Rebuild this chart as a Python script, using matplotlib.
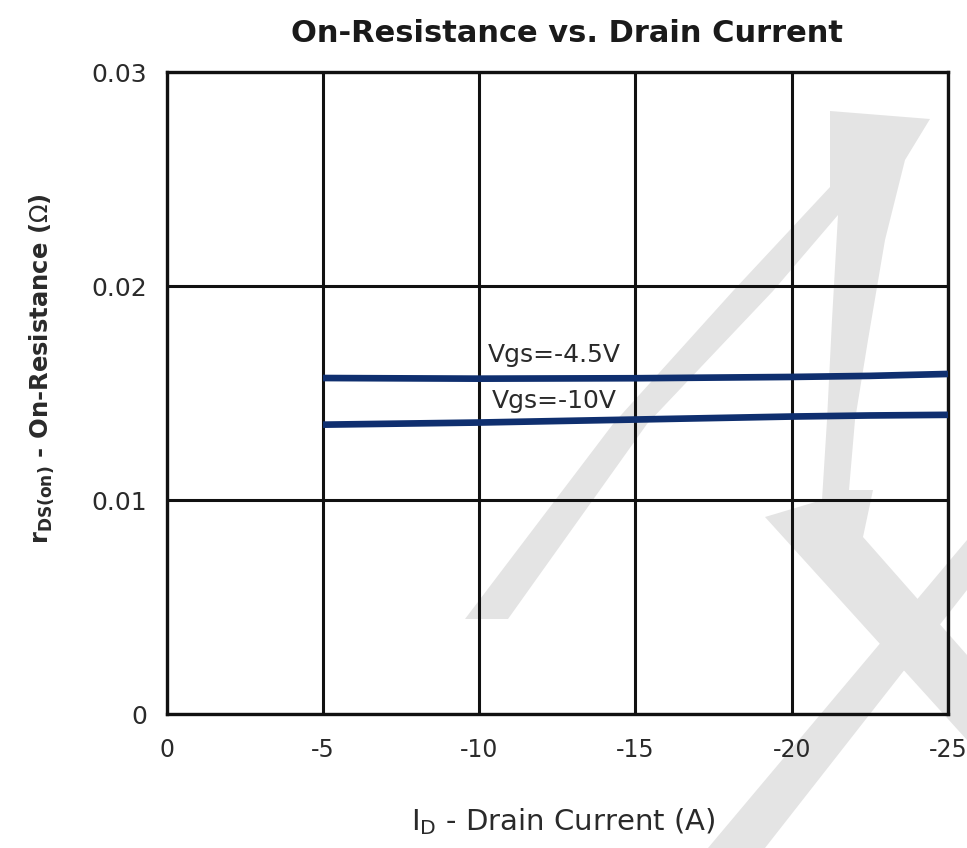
import numpy as np
import matplotlib
matplotlib.use("Agg")
import matplotlib.pyplot as plt
from matplotlib.patches import Polygon

# data (drain current in A, rDS(on) in ohm)
i_d = [-5, -10, -15, -20, -22.5, -25]
r_vgs45 = [0.01570, 0.01567, 0.01569, 0.01575, 0.01580, 0.01589]
r_vgs10 = [0.01352, 0.01362, 0.01376, 0.01390, 0.01395, 0.01398]

x_ticks = [0, -5, -10, -15, -20, -25]
x_tick_labels = ['0', '-5', '-10', '-15', '-20', '-25']
y_ticks = [0, 0.01, 0.02, 0.03]
y_tick_labels = ['0', '0.01', '0.02', '0.03']

W, H = 967, 848
fig = plt.figure(figsize=(W/100, H/100), dpi=100)
fig.patch.set_facecolor('white')

# faint grey watermark behind the plot (pixel coords of the picture)
def px(pts):
    return [(x/W, 1 - y/H) for x, y in pts]

wm = '#e4e4e4'
shapes = [
    [(465, 619), (613, 424), (733, 291), (830, 187), (830, 111), (930, 119),
     (905, 160), (885, 240), (868, 340), (855, 420), (849, 490), (873, 490),
     (863, 537), (967, 655), (967, 740), (765, 517), (822, 500), (827, 420),
     (832, 320), (838, 215), (773, 291), (647, 424), (508, 619)],
    [(708, 848), (967, 540), (967, 590), (765, 848)],
]
for s in shapes:
    fig.patches.append(Polygon(px(s), closed=True, transform=fig.transFigure,
                               fc=wm, ec='none', zorder=-1))

ax = fig.add_axes([166.7/W, 1 - 714/H, (948 - 166.7)/W, (714 - 72)/H])
ax.set_facecolor('none')

line_col = '#0f2f6f'
ax.plot(i_d, r_vgs45, color=line_col, lw=4.8, solid_capstyle='butt', zorder=3)
ax.plot(i_d, r_vgs10, color=line_col, lw=4.8, solid_capstyle='butt', zorder=3)

ax.text(-12.4, 0.01645, 'Vgs=-4.5V', ha='center', va='baseline', fontsize=18, color='#2a2a2a', zorder=4)
ax.text(-12.4, 0.01432, 'Vgs=-10V', ha='center', va='baseline', fontsize=18, color='#2a2a2a', zorder=4)

ax.set_xlim(0, -25)
ax.set_ylim(0, 0.03)
ax.set_xticks(x_ticks)
ax.set_xticklabels(x_tick_labels)
ax.set_yticks(y_ticks)
ax.set_yticklabels(y_tick_labels)
ax.tick_params(axis='x', length=0, pad=17, labelsize=17, labelcolor='#2a2a2a')
ax.tick_params(axis='y', length=0, pad=14, labelsize=18, labelcolor='#2a2a2a')

ax.grid(True, color='#111111', lw=2.2, zorder=2)
ax.set_axisbelow(True)
for sp in ax.spines.values():
    sp.set_color('#111111')
    sp.set_linewidth(2.4)

fig.text(567/W, 1 - 42/H, 'On-Resistance vs. Drain Current', ha='center', va='baseline',
         fontsize=22, fontweight='bold', color='#1a1a1a')
fig.text(563/W, 1 - 830/H, r'$\mathregular{I_D}$ - Drain Current (A)', ha='center', va='baseline',
         fontsize=21, color='#2a2a2a')
fig.text(42/W, 1 - 369/H, r'$\mathbf{r_{DS(on)}}$ - On-Resistance ($\Omega$)', ha='center', va='center',
         rotation=90, fontsize=17.5, fontweight='bold', color='#2a2a2a')

fig.savefig('out.png', dpi=100)
